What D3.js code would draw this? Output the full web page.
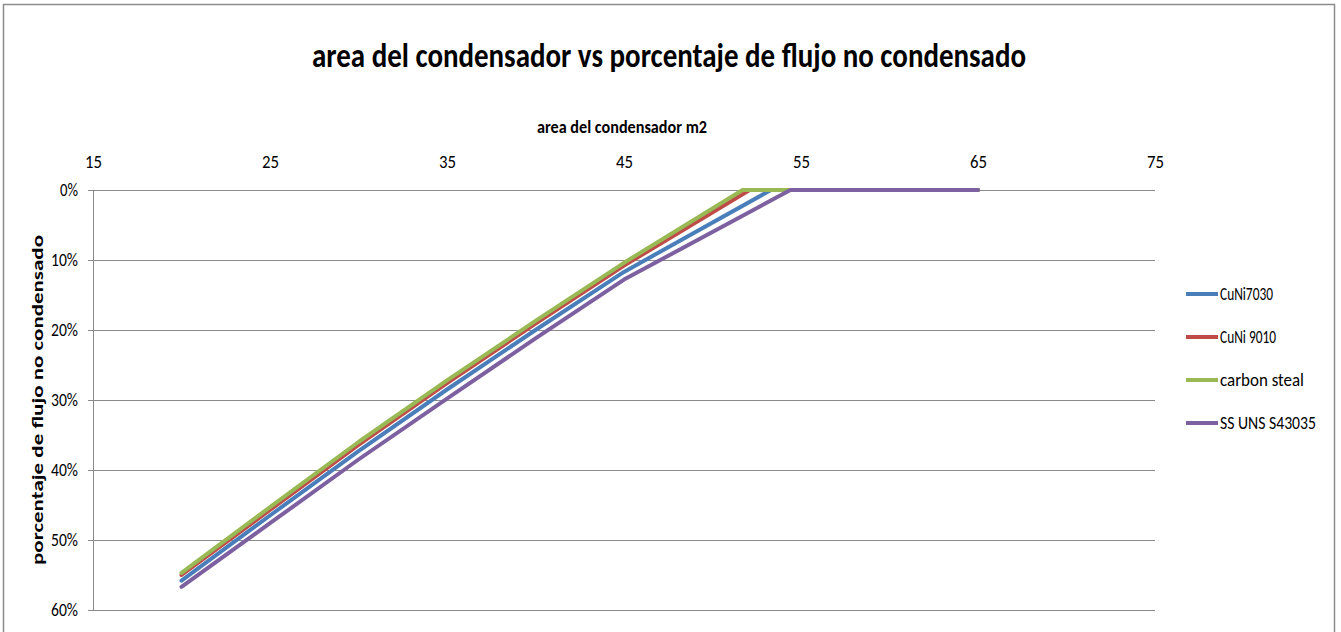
<!DOCTYPE html>
<html><head><meta charset="utf-8">
<script src="https://cdn.jsdelivr.net/npm/d3@7"></script>
<style>body{margin:0;background:#fff;} text{font-family:Calibri,"Liberation Sans","Open Sans",sans-serif;}</style>
</head><body><svg id="c" width="1341" height="632"></svg>
<script>
const xValues = [20, 25, 30, 35, 40, 45];
const cuNi7030 = [55.8, 46.5, 37.3, 28.5, 20.0, 11.7];
const cuNi9010 = [55.0, 45.7, 36.4, 27.6, 19.1, 10.8];
const carbonSteal = [54.7, 45.3, 36.0, 27.2, 18.7, 10.4];
const ssUns = [56.7, 47.6, 38.5, 29.8, 21.2, 12.8];
// x where each series reaches 0 %, and the flat tail
const zeroAt = { "CuNi7030": 53.3, "CuNi 9010": 52.1, "carbon steal": 51.7, "SS UNS S43035": 54.4 };
const tailX = [55, 60, 65];
const seriesNames = ["CuNi7030", "CuNi 9010", "carbon steal", "SS UNS S43035"];
const seriesValues = [cuNi7030, cuNi9010, carbonSteal, ssUns];
const colors = ["#4A7EBB", "#BE4B48", "#98B954", "#7D60A0"];
const xTicks = [15, 25, 35, 45, 55, 65, 75];
const yTicks = [0, 10, 20, 30, 40, 50, 60];

const svg = d3.select("#c");
svg.append("rect").attr("x", 3.5).attr("y", 4.5).attr("width", 1331).attr("height", 640)
  .attr("fill", "#fff").attr("stroke", "#8c8c8c").attr("stroke-width", 1.5);

const x = d3.scaleLinear().domain([15, 75]).range([93, 1155]);
const y = d3.scaleLinear().domain([0, 60]).range([190, 610]);

// gridlines
svg.append("g").selectAll("line").data(yTicks).join("line")
  .attr("x1", 88).attr("x2", 1155).attr("y1", d => Math.round(y(d)) + 0.5).attr("y2", d => Math.round(y(d)) + 0.5)
  .attr("stroke", "#8a8a8a").attr("stroke-width", 1);
svg.append("line").attr("x1", 93.5).attr("x2", 93.5).attr("y1", 190).attr("y2", 610).attr("stroke", "#8a8a8a");

// x axis (top)
const xa = svg.append("g").attr("transform", "translate(0,190)")
  .call(d3.axisTop(x).tickValues(xTicks).tickSize(0).tickPadding(22).tickFormat(d3.format("d")));
xa.select(".domain").remove();
xa.selectAll("text").attr("font-size", 18).attr("fill", "#000")
  .attr("font-family", "Calibri,'Liberation Sans',sans-serif")
  .attr("textLength", 17).attr("lengthAdjust", "spacingAndGlyphs");

// y axis
const ya = svg.append("g").attr("transform", "translate(93,0)")
  .call(d3.axisLeft(y).tickValues(yTicks).tickSize(0).tickPadding(15).tickFormat(d => d + "%"));
ya.select(".domain").remove();
ya.selectAll("text").attr("font-size", 18).attr("fill", "#000")
  .attr("font-family", "Calibri,'Liberation Sans',sans-serif")
  .attr("textLength", d => d === 0 ? 18 : 27).attr("lengthAdjust", "spacingAndGlyphs");

// lines
const line = d3.line().x(d => x(d[0])).y(d => y(d[1]));
[0, 1, 2, 3].forEach(i => {
  const name = seriesNames[i];
  const pts = xValues.map((xv, k) => [xv, seriesValues[i][k]]);
  pts.push([zeroAt[name], 0]);
  tailX.forEach(t => pts.push([t, 0]));
  svg.append("path").datum(pts).attr("d", line).attr("fill", "none")
    .attr("stroke", colors[i]).attr("stroke-width", 4).attr("stroke-linejoin", "round").attr("stroke-linecap", "round");
});

// titles
svg.append("text").attr("x", 669).attr("y", 67).attr("text-anchor", "middle")
  .attr("font-size", 35).attr("font-weight", "bold").attr("textLength", 714).attr("lengthAdjust", "spacingAndGlyphs")
  .text("area del condensador vs porcentaje  de flujo no condensado");
svg.append("text").attr("x", 622).attr("y", 133).attr("text-anchor", "middle")
  .attr("font-size", 17).attr("font-weight", "bold").attr("textLength", 170).attr("lengthAdjust", "spacingAndGlyphs")
  .text("area del condensador m2");
svg.append("text").attr("transform", "translate(43,400) rotate(-90)").attr("text-anchor", "middle")
  .attr("font-size", 15).attr("font-weight", "bold").attr("font-family", "Arial,'Liberation Sans',sans-serif")
  .attr("textLength", 330).attr("lengthAdjust", "spacingAndGlyphs")
  .text("porcentaje  de flujo no condensado");

// legend
const legY = [294, 337, 380, 423];
const legW = [53, 56, 84, 96];
seriesNames.forEach((n, i) => {
  svg.append("line").attr("x1", 1186).attr("x2", 1218).attr("y1", legY[i]).attr("y2", legY[i])
    .attr("stroke", colors[i]).attr("stroke-width", 4);
  svg.append("text").attr("x", 1220).attr("y", legY[i] + 6).attr("font-size", 18)
    .attr("textLength", legW[i]).attr("lengthAdjust", "spacingAndGlyphs").text(n);
});
</script></body></html>
